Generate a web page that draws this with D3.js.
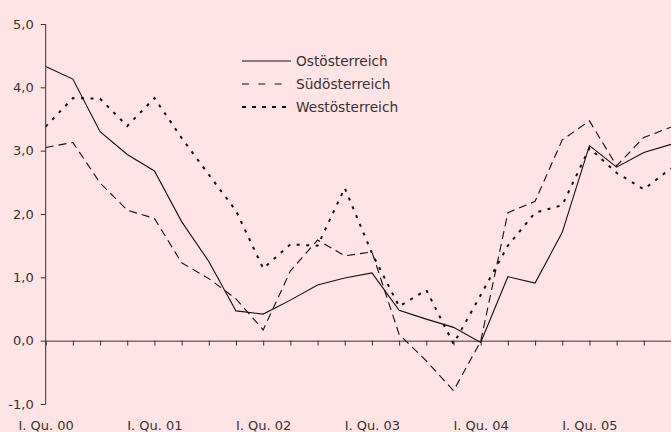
<!DOCTYPE html>
<html>
<head>
<meta charset="utf-8">
<script src="https://cdn.jsdelivr.net/npm/d3@7"></script>
<style>
  html, body { margin: 0; padding: 0; background: #ffe3e5; }
  svg { display: block; }
  text { font-family: "DejaVu Sans", sans-serif; font-size: 13px; fill: #333; }
</style>
</head>
<body>
<svg id="chart" width="671" height="432"></svg>
<script>
const categories = [];
const years = ["00", "01", "02", "03", "04", "05"];
const quarterNames = ["I.", "II.", "III.", "IV."];
years.forEach(y => quarterNames.forEach(q => categories.push(q + " Qu. " + y)));

const seriesNames = ["Ostösterreich", "Südösterreich", "Westösterreich"];
const ost  = [4.33, 4.13, 3.30, 2.94, 2.68, 1.88, 1.25, 0.47, 0.42, 0.64, 0.88, 0.99, 1.07, 0.48, 0.34, 0.21, -0.03, 1.01, 0.91, 1.71, 3.08, 2.74, 2.97, 3.10];
const sued = [3.05, 3.13, 2.49, 2.06, 1.93, 1.23, 0.98, 0.66, 0.17, 1.10, 1.59, 1.34, 1.40, 0.10, -0.32, -0.79, -0.01, 2.02, 2.20, 3.17, 3.47, 2.76, 3.21, 3.37];
const west = [3.38, 3.83, 3.82, 3.39, 3.83, 3.20, 2.62, 2.05, 1.14, 1.52, 1.50, 2.41, 1.38, 0.54, 0.80, -0.05, 0.72, 1.50, 2.02, 2.14, 3.04, 2.65, 2.39, 2.72];
const yTicks = [-1, 0, 1, 2, 3, 4, 5];

const svg = d3.select("#chart");
const x = d3.scalePoint().domain(categories).range([45.7, 671]);
const y = d3.scaleLinear().domain([-1, 5]).range([404, 24]);

const fmt = v => d3.format(".1f")(v).replace(".", ",").replace("−", "-");

// Y axis
const yAxis = svg.append("g").attr("transform", "translate(45.7,0)")
  .call(d3.axisLeft(y).tickValues(yTicks).tickFormat(fmt).tickSize(5).tickPadding(7));
yAxis.select(".domain").attr("stroke", "#333").attr("d", "M0," + y(-1) + "V" + y(5));
yAxis.selectAll(".tick line").attr("stroke", "#333");
yAxis.selectAll("text").style("font-family", "DejaVu Sans").style("font-size", "13px").attr("fill", "#333");

// X axis at zero
const xAxis = svg.append("g").attr("transform", "translate(0," + y(0) + ")")
  .call(d3.axisBottom(x).tickSize(5).tickFormat(d => d.startsWith("I. ") ? d : "").tickSizeOuter(0));
xAxis.select(".domain").attr("stroke", "#333");
xAxis.selectAll(".tick line").attr("stroke", "#333");
xAxis.selectAll("text")
  .attr("y", null).attr("dy", null)
  .attr("transform", "translate(0," + (430 - y(0)) + ")")
  .style("font-family", "DejaVu Sans").style("font-size", "13px").attr("fill", "#333");

const styles = [
  { data: ost,  dash: null,    width: 1.1, legDash: null },
  { data: sued, dash: "8,5",   width: 1.1, legDash: "7,9.3" },
  { data: west, dash: "3,6.5", width: 2,   legDash: "4,6" }
];

const line = d3.line().x((d, i) => x(categories[i])).y(d => y(d));

styles.forEach(s => {
  svg.append("path")
    .datum(s.data)
    .attr("d", line)
    .attr("fill", "none")
    .attr("stroke", "#111")
    .attr("stroke-width", s.width)
    .attr("stroke-dasharray", s.dash);
});

// Legend
const legend = svg.append("g");
const legY = [61, 84, 107];
seriesNames.forEach((name, i) => {
  legend.append("line")
    .attr("x1", 242).attr("x2", 291)
    .attr("y1", legY[i]).attr("y2", legY[i])
    .attr("stroke", "#111")
    .attr("stroke-width", styles[i].width)
    .attr("stroke-dasharray", styles[i].legDash);
  legend.append("text")
    .attr("x", 296).attr("y", legY[i]).attr("dy", "0.36em")
    .style("font-size", "13.7px")
    .text(name);
});
</script>
</body>
</html>
